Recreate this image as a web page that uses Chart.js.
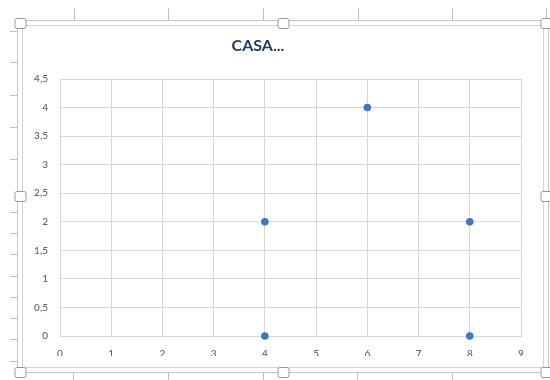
<!DOCTYPE html>
<html>
<head>
<meta charset="utf-8">
<title>CASA</title>
<script src="https://cdn.jsdelivr.net/npm/chart.js@4/dist/chart.umd.min.js"></script>
<style>
  html, body { margin: 0; padding: 0; background: #ffffff; }
  #wrap { width: 550px; height: 380px; }
</style>
</head>
<body>
<div id="wrap"><canvas id="chart" width="550" height="380"></canvas></div>
<script>
// Points of the scatter series
const xValues = [4, 4, 6, 8, 8];
const yValues = [0, 2, 4, 2, 0];

// Axis ranges and steps
const xRange = [0, 9];
const xStep = 1;
const yRange = [0, 4.5];
const yStep = 0.5;

const chartTitle = 'CASA...';

const points = xValues.map((x, i) => ({ x: x, y: yValues[i] }));

// Spreadsheet backdrop: cell ticks, chart frame and selection handles
const sheetFrame = {
  id: 'sheetFrame',
  beforeDraw(chart) {
    const ctx = chart.ctx;
    ctx.save();
    ctx.fillStyle = '#ffffff';
    ctx.fillRect(0, 0, chart.width, chart.height);

    ctx.strokeStyle = '#bfbfbf';
    ctx.lineWidth = 1;
    // column separators above and below the chart
    [74, 168, 263, 358, 452, 546].forEach(x => {
      ctx.beginPath(); ctx.moveTo(x + 0.5, 8); ctx.lineTo(x + 0.5, 20); ctx.stroke();
    });
    [73, 168, 263, 357, 452].forEach(x => {
      ctx.beginPath(); ctx.moveTo(x + 0.5, 373); ctx.lineTo(x + 0.5, 380); ctx.stroke();
    });
    // row separators left of the chart
    [31, 62, 95, 127, 159, 212, 233, 254, 276, 297, 318, 339, 361].forEach(y => {
      ctx.beginPath(); ctx.moveTo(10, y + 0.5); ctx.lineTo(17, y + 0.5); ctx.stroke();
    });

    // outer selection outline and chart border
    ctx.strokeStyle = '#c6c6c6';
    ctx.strokeRect(17.5, 20.5, 531, 352);
    ctx.strokeStyle = '#d4d4d4';
    ctx.strokeRect(22.5, 25.5, 521, 342);
    ctx.restore();
  },
  afterDraw(chart) {
    const ctx = chart.ctx;
    ctx.save();
    // title
    ctx.font = 'bold 16px Lato, "Open Sans", sans-serif';
    ctx.fillStyle = '#1f3a64';
    ctx.textAlign = 'center';
    ctx.textBaseline = 'middle';
    ctx.fillText(chartTitle, 258, 46);

    // resize handles
    const handles = [[20, 23], [283, 23], [546, 23], [20, 196], [546, 196], [20, 372], [283, 372], [546, 372]];
    handles.forEach(([cx, cy]) => {
      const w = 11, h = 10, r = 2;
      const x = cx - w / 2 + 0.5, y = cy - h / 2 + 0.5;
      ctx.beginPath();
      ctx.moveTo(x + r, y);
      ctx.lineTo(x + w - r, y); ctx.quadraticCurveTo(x + w, y, x + w, y + r);
      ctx.lineTo(x + w, y + h - r); ctx.quadraticCurveTo(x + w, y + h, x + w - r, y + h);
      ctx.lineTo(x + r, y + h); ctx.quadraticCurveTo(x, y + h, x, y + h - r);
      ctx.lineTo(x, y + r); ctx.quadraticCurveTo(x, y, x + r, y);
      ctx.closePath();
      ctx.fillStyle = '#ffffff';
      ctx.fill();
      ctx.strokeStyle = '#9a9a9a';
      ctx.stroke();
    });
    ctx.restore();
  }
};

const gridColor = '#d9d9d9';
const tickFont = { family: 'Lato, "Open Sans", sans-serif', size: 10, weight: '500' };
const tickColor = '#595f6e';

new Chart(document.getElementById('chart'), {
  type: 'scatter',
  data: {
    datasets: [{
      data: points,
      backgroundColor: '#4472c4',
      borderColor: '#4472c4',
      pointRadius: 3.8,
      pointHoverRadius: 3.8,
      pointBorderWidth: 0,
      clip: false
    }]
  },
  options: {
    responsive: false,
    animation: false,
    events: [],
    layout: { padding: { left: 20, top: 79, right: 29, bottom: 24 } },
    plugins: {
      legend: { display: false },
      title: { display: false },
      tooltip: { enabled: false }
    },
    scales: {
      x: {
        type: 'linear',
        min: xRange[0],
        max: xRange[1],
        afterFit(scale) { scale.height = 20; },
        grid: { color: gridColor, drawTicks: false },
        border: { color: gridColor },
        ticks: {
          stepSize: xStep,
          padding: 12,
          color: tickColor,
          font: tickFont,
          maxRotation: 0
        }
      },
      y: {
        type: 'linear',
        min: yRange[0],
        max: yRange[1],
        afterFit(scale) { scale.width = 40; },
        grid: { color: gridColor, drawTicks: false },
        border: { color: gridColor },
        ticks: {
          stepSize: yStep,
          padding: 12,
          color: tickColor,
          font: tickFont,
          callback: v => String(v).replace('.', ',')
        }
      }
    }
  },
  plugins: [sheetFrame]
});
</script>
</body>
</html>
